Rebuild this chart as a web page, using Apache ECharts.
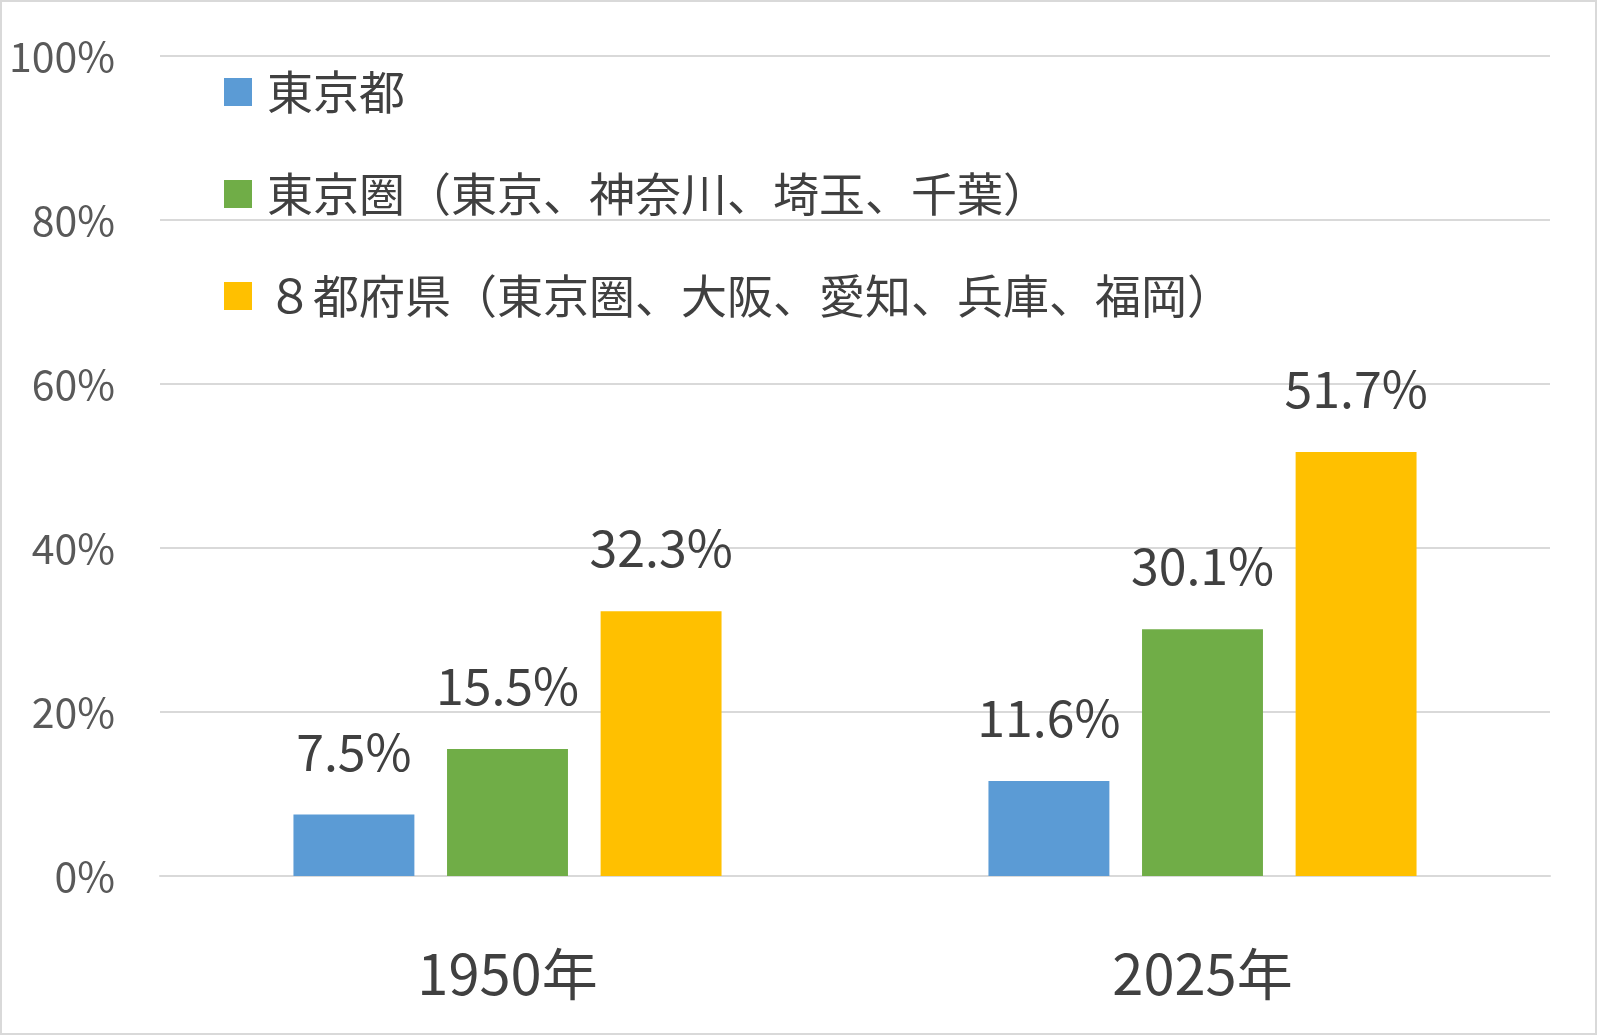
<!DOCTYPE html>
<html><head><meta charset="utf-8">
<script src="https://cdn.jsdelivr.net/npm/echarts@6/dist/echarts.min.js"></script>
<style>html,body{margin:0;padding:0;background:#fff}#c{width:1597px;height:1035px;box-sizing:border-box;border:2px solid #d9d9d9}</style>
</head><body><div id="c"></div>
<script>
const categories = ['1950年', '2025年'];
const seriesNames = ['東京都', '東京圏（東京、神奈川、埼玉、千葉）', '８都府県（東京圏、大阪、愛知、兵庫、福岡）'];
const tokyo = [7.5, 11.6];
const tokyoArea = [15.5, 30.1];
const eight = [32.3, 51.7];
const yTicks = [0, 20, 40, 60, 80, 100];
const colors = ['#5B9BD5', '#70AD47', '#FFC000'];
const font = '"Noto Sans CJK JP","Noto Sans",sans-serif';
const chart = echarts.init(document.getElementById('c'));
const mk = (name, data, i) => ({
  name, type: 'bar', data, barWidth: '17.4%', barGap: '27%',
  itemStyle: { color: colors[i] },
  label: { show: true, position: 'top', distance: 38, formatter: p => p.value.toFixed(1) + '%', fontSize: 50, color: '#404040', fontFamily: font }
});
chart.setOption({
  textStyle: { fontFamily: font },
  animation: false,
  grid: { left: 158, right: 45, top: 54, bottom: 157, containLabel: false },
  legend: {
    orient: 'vertical', left: 217, top: 62, itemWidth: 28, itemHeight: 28, itemGap: 56,
    textStyle: { fontSize: 46, color: '#404040', fontFamily: font, padding: [0, 0, 0, 10] }, icon: 'rect',
    data: seriesNames
  },
  xAxis: {
    type: 'category', data: categories,
    axisLine: { lineStyle: { color: '#d9d9d9', width: 2 } }, axisTick: { show: false },
    axisLabel: { fontSize: 56, color: '#404040', margin: 70 }
  },
  yAxis: {
    type: 'value', min: 0, max: 100, interval: 20,
    axisLabel: { fontSize: 41, color: '#595959', formatter: v => yTicks.includes(v) ? v + '%' : '', margin: 45 },
    splitLine: { lineStyle: { color: '#d9d9d9', width: 2 } }
  },
  series: [mk(seriesNames[0], tokyo, 0), mk(seriesNames[1], tokyoArea, 1), mk(seriesNames[2], eight, 2)]
});
</script></body></html>
